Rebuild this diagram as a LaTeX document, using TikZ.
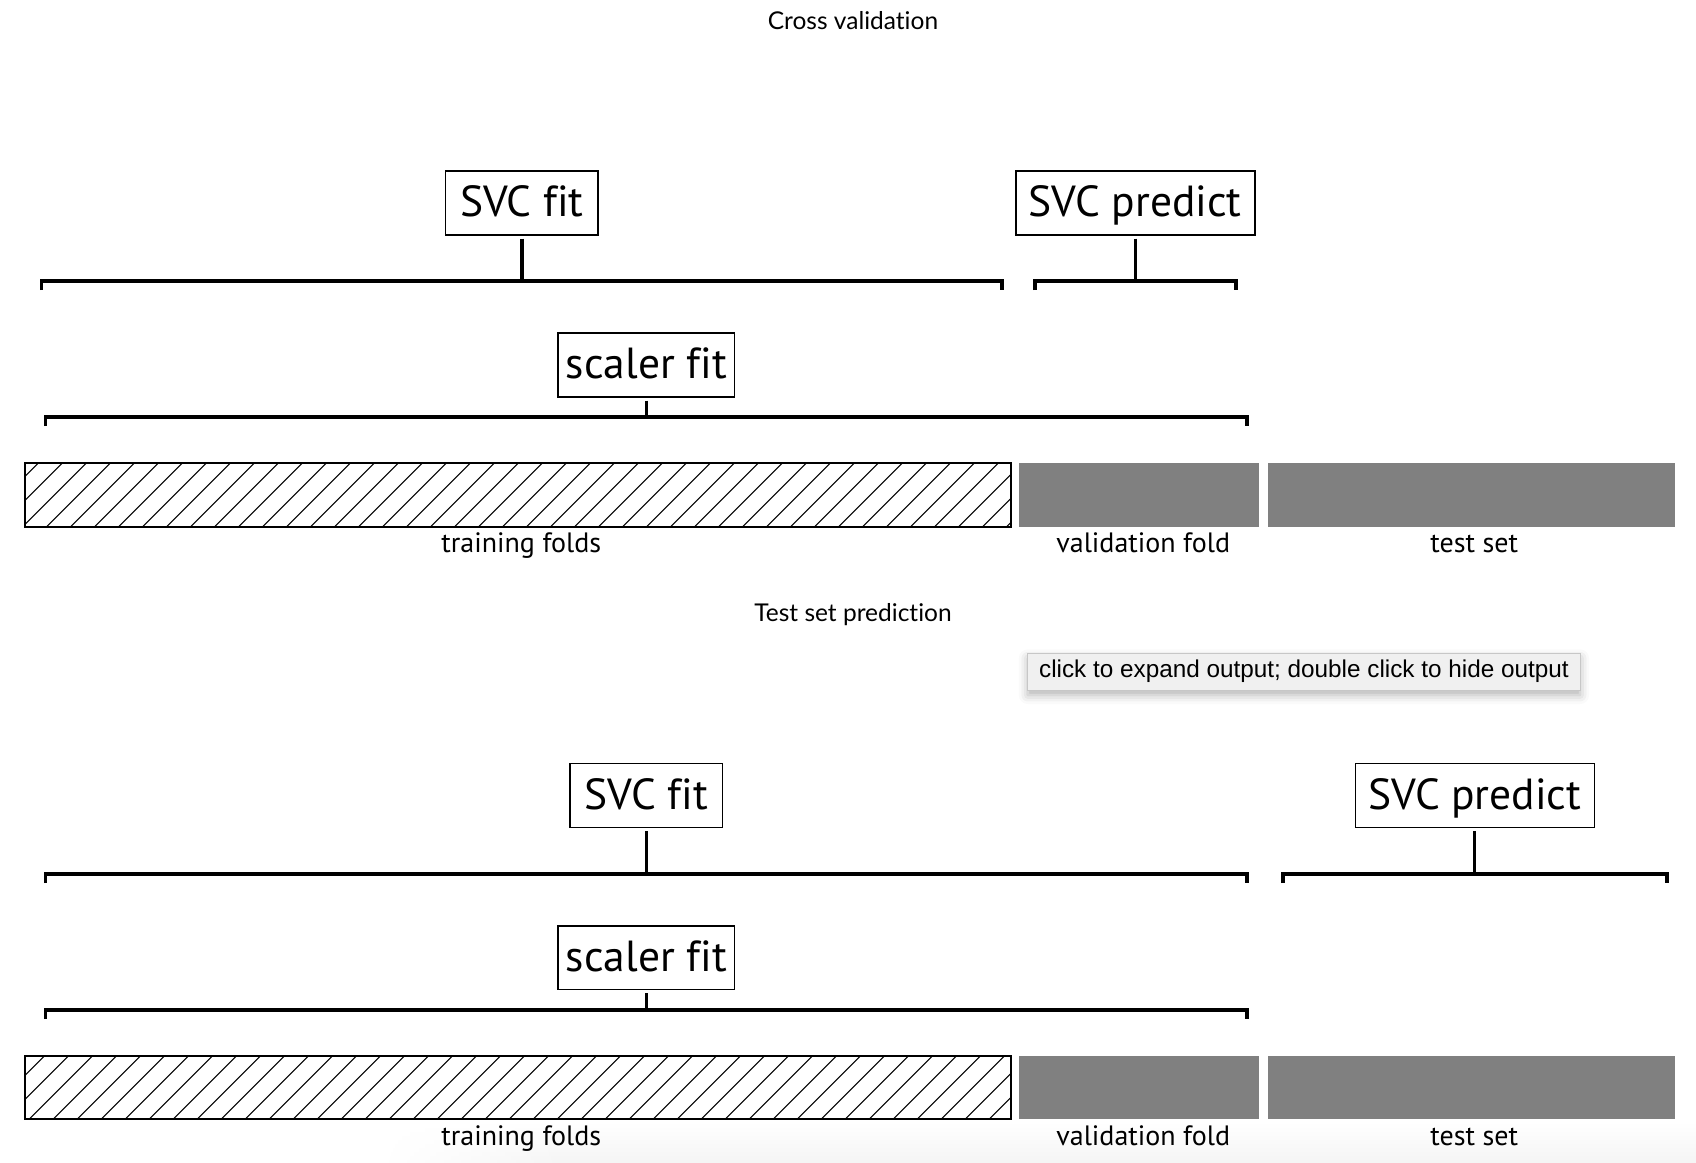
\documentclass[tikz,border=0pt]{standalone}
\usepackage{fontspec}
\setmainfont[Ligatures=NoCommon]{PT Sans}
\newfontfamily\headfont[Ligatures=NoCommon]{Lato}
\newfontfamily\tipfont{Liberation Sans}
\usetikzlibrary{calc,shadows.blur,fadings}

\tikzfading[name=fadeleft, left color=transparent!100, right color=transparent!0]

\begin{document}
\begin{tikzpicture}[x=1pt,y=-1pt,
  lbox/.style={draw=black, line width=1.6pt, fill=white, inner sep=0pt,
    minimum height=63.8pt, text height=27pt, text depth=0pt,
    font=\fontsize{43.5}{43.5}\selectfont},
  brk/.style={line width=3.2pt, line cap=butt, line join=miter},
  caption/.style={font=\fontsize{28}{28}\selectfont, inner sep=0pt, anchor=base},
  heading/.style={font=\headfont\fontsize{24.5}{24.5}\selectfont, inner sep=0pt, anchor=base},
  block/.style={fill=black!50, draw=none},
  hatchline/.style={line width=1.1pt},
  frame/.style={draw=black, line width=2pt},
]
\useasboundingbox (0,0) rectangle (1696,1162);

% faint shade along the lower edge
\shade[top color=white, bottom color=black!4, path fading=fadeleft]
  (380,1122) rectangle (560,1162);
\shade[top color=white, bottom color=black!4] (560,1122) rectangle (1696,1162);

% ---------- panel 1: cross validation ----------
\node[heading] (title1) at (853,29.3) {Cross validation};

\node[lbox, minimum width=152.5pt] (fit1) at (521.9,202.8) {SVC fit};
\node[lbox, minimum width=239pt] (pred1) at (1135.2,202.8) {SVC predict};
\node[lbox, minimum width=176.3pt] (scal1) at (646.3,365) {scaler fit};

\coordinate (b1l) at (41.5,281);   \coordinate (b1r) at (1002,281);
\coordinate (b2l) at (1035,281);   \coordinate (b2r) at (1236,281);
\coordinate (b3l) at (45.5,417);   \coordinate (b3r) at (1247,417);

\draw[brk] (b1l) ++(0,9) -- (b1l) -- (b1r) -- ++(0,9);
\draw[brk] (b2l) ++(0,9) -- (b2l) -- (b2r) -- ++(0,9);
\draw[brk] (b3l) ++(0,9) -- (b3l) -- (b3r) -- ++(0,9);
\draw[brk] ([yshift=-3pt]fit1.south) -- (fit1.south |- b1l);
\draw[brk] ([yshift=-3pt]pred1.south) -- (pred1.south |- b2l);
\draw[brk] ([yshift=-3pt]scal1.south) -- (scal1.south |- b3l);

% data blocks
\begin{scope}
  \clip (25,463.3) rectangle (1011,526.7);
  \foreach \k in {-3,...,42}
    \draw[hatchline] (22.7+24*\k,526.7) -- ++(63.4,-63.4);
\end{scope}
\draw[frame] (25,463.3) rectangle (1011,526.7);
\fill[block] (1019,463.3) rectangle (1258.6,526.7);
\fill[block] (1268,463.3) rectangle (1674.8,526.7);

\node[caption] (tr1) at (521.3,552.7) {training folds};
\node[caption] (va1) at (1143.2,552.7) {validation fold};
\node[caption] (te1) at (1474.2,552.7) {test set};

% ---------- panel 2: test set prediction ----------
\node[heading] (title2) at (853,621.5) {Test set prediction};

\node[lbox, minimum width=152.5pt] (fit2) at (646.3,795.5) {SVC fit};
\node[lbox, minimum width=239pt] (pred2) at (1474.8,795.5) {SVC predict};
\node[lbox, minimum width=176.3pt] (scal2) at (646.3,957.7) {scaler fit};

\coordinate (c1l) at (45.5,874);   \coordinate (c1r) at (1247,874);
\coordinate (c2l) at (1283,874);   \coordinate (c2r) at (1667,874);
\coordinate (c3l) at (45.5,1010);  \coordinate (c3r) at (1247,1010);

\draw[brk] (c1l) ++(0,9) -- (c1l) -- (c1r) -- ++(0,9);
\draw[brk] (c2l) ++(0,9) -- (c2l) -- (c2r) -- ++(0,9);
\draw[brk] (c3l) ++(0,9) -- (c3l) -- (c3r) -- ++(0,9);
\draw[brk] ([yshift=-3pt]fit2.south) -- (fit2.south |- c1l);
\draw[brk] ([yshift=-3pt]pred2.south) -- (pred2.south |- c2l);
\draw[brk] ([yshift=-3pt]scal2.south) -- (scal2.south |- c3l);

\begin{scope}
  \clip (25,1056) rectangle (1011,1119.4);
  \foreach \k in {-3,...,42}
    \draw[hatchline] (5+24*\k,1119.4) -- ++(63.4,-63.4);
\end{scope}
\draw[frame] (25,1056) rectangle (1011,1119.4);
\fill[block] (1019,1056) rectangle (1258.6,1119.4);
\fill[block] (1268,1056) rectangle (1674.8,1119.4);

\node[caption] (tr2) at (521.3,1145.4) {training folds};
\node[caption] (va2) at (1143.2,1145.4) {validation fold};
\node[caption] (te2) at (1474.2,1145.4) {test set};

% ---------- tooltip ----------
\node[draw=black!22, line width=1pt, fill=black!6, inner sep=0pt,
  minimum width=552.3pt, minimum height=36.7pt,
  blur shadow={shadow xshift=0pt, shadow yshift=-5pt, shadow blur radius=9pt, shadow opacity=30},
  font=\tipfont\fontsize{24.3}{24.3}\selectfont] (tip) at (1303.9,671.7)
  {click to expand output; double click to hide output};
\end{tikzpicture}
\end{document}
